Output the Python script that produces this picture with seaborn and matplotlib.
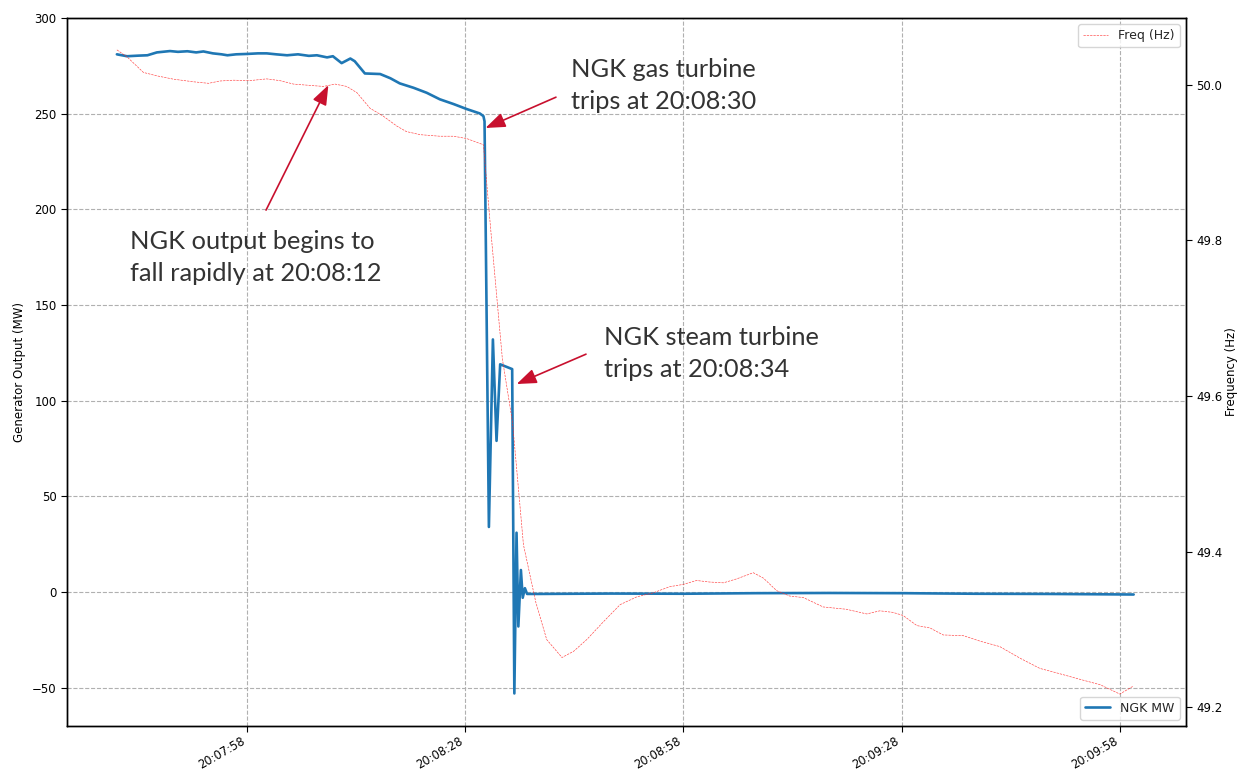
import matplotlib
matplotlib.use("Agg")
import matplotlib.pyplot as plt
import matplotlib.dates as mdates
import numpy as np
import pandas as pd
import seaborn as sns

# ---------------- data ----------------
base_time = "2018-08-25 20:07:58"

# NGK generator output (MW), seconds relative to 20:07:58
mw_seconds = [-17.9, -16.5, -15.0, -13.7, -12.4, -10.6, -9.5, -8.2, -7.0, -6.0,
              -4.7, -3.5, -2.7, -1.5, 0.0, 1.5, 2.7, 4.0, 5.5, 7.0,
              8.5, 9.6, 11.0, 11.8, 13.0, 14.2, 14.8, 16.2, 18.3, 19.7,
              21.0, 22.9, 24.7, 26.5, 28.4, 30.2, 32.0, 32.5, 32.65, 33.25,
              33.8, 34.3, 34.8, 36.45, 36.75, 37.05, 37.3, 37.65, 37.9, 38.2,
              38.5, 40.0, 50.0, 60.0, 70.0, 80.0, 90.0, 100.0, 110.0, 121.9]
mw_values = [281.0, 280.0, 280.3, 280.5, 282.0, 282.7, 282.3, 282.6, 282.0, 282.5,
             281.5, 281.0, 280.5, 281.0, 281.2, 281.5, 281.5, 281.0, 280.5, 281.0,
             280.2, 280.5, 279.4, 280.0, 276.4, 278.8, 277.4, 271.0, 270.7, 268.5,
             265.8, 263.5, 260.9, 257.5, 255.0, 252.4, 250.1, 248.7, 246.0, 34.0,
             132.0, 79.0, 119.0, 116.5, -53.0, 31.0, -18.0, 11.5, -3.0, 2.0,
             -1.0, -1.0, -0.8, -0.9, -0.6, -0.5, -0.6, -0.9, -1.0, -1.3]

# System frequency (Hz), seconds relative to 20:07:58
freq_seconds = [-17.9, -16.5, -14.25, -12.4, -10.1, -7.4, -5.3, -3.7, -1.9, 0.4,
                2.7, 4.5, 6.4, 9.1, 10.5, 12.1, 13.7, 15.1, 16.9, 18.7,
                20.6, 21.9, 23.8, 26.5, 28.4, 30.2, 32.5, 33.5, 35.1, 36.5,
                38.0, 39.7, 41.2, 43.3, 44.9, 46.7, 49.0, 51.3, 53.6, 55.8,
                58.1, 60.0, 61.8, 63.6, 65.5, 67.3, 69.6, 71.0, 72.8, 74.6,
                76.5, 79.2, 82.4, 85.2, 87.0, 88.8, 90.2, 92.1, 93.9, 95.7,
                98.5, 100.8, 103.5, 106.3, 109.0, 111.8, 114.5, 117.3, 120.0, 121.8]
freq_values = [50.045, 50.036, 50.016, 50.0116, 50.0073, 50.004, 50.002, 50.005, 50.006, 50.0055,
               50.0077, 50.0055, 50.001, 49.999, 49.998, 50.001, 49.998, 49.990, 49.970, 49.960,
               49.947, 49.940, 49.936, 49.934, 49.934, 49.931, 49.923, 49.814, 49.648, 49.566,
               49.409, 49.335, 49.287, 49.264, 49.272, 49.287, 49.310, 49.332, 49.342, 49.347,
               49.355, 49.358, 49.363, 49.361, 49.360, 49.365, 49.373, 49.366, 49.350, 49.343,
               49.341, 49.329, 49.326, 49.320, 49.324, 49.322, 49.318, 49.305, 49.302, 49.293,
               49.292, 49.285, 49.278, 49.263, 49.250, 49.243, 49.236, 49.229, 49.217, 49.227]

tick_labels = ["20:07:58", "20:08:28", "20:08:58", "20:09:28", "20:09:58"]
mw_ticks = [-50, 0, 50, 100, 150, 200, 250, 300]
freq_ticks = [49.2, 49.4, 49.6, 49.8, 50.0]

# annotations: text, (tip seconds, tip MW), (tail seconds, tail MW)
note_texts = ["NGK output begins to\nfall rapidly at 20:08:12",
              "NGK gas turbine\ntrips at 20:08:30",
              "NGK steam turbine\ntrips at 20:08:34"]
note_tips = [(11.18, 264.9), (32.78, 242.5), (37.07, 108.7)]
note_tails = [(2.61, 199.6), (42.47, 258.6), (46.6, 124.3)]
note_text_pos = [(0.0565, 0.7006), (0.4508, 0.9435), (0.4800, 0.5650)]

# ---------------- build frames ----------------
t0 = pd.Timestamp(base_time)
mw_df = pd.DataFrame({"time": t0 + pd.to_timedelta(mw_seconds, unit="s"),
                      "NGK MW": mw_values})
fq_df = pd.DataFrame({"time": t0 + pd.to_timedelta(freq_seconds, unit="s"),
                      "Freq (Hz)": freq_values})

sns.set_style("ticks")
plt.rcParams["font.family"] = ["DejaVu Sans"]

fig = plt.figure(figsize=(12.37, 7.71), dpi=100)
ax = fig.add_axes([0.0542, 0.0584, 0.9046, 0.9183])
ax2 = ax.twinx()

sns.lineplot(data=mw_df, x="time", y="NGK MW", ax=ax, color="#1f77b4",
             linewidth=1.9, label="NGK MW", legend=False)
sns.lineplot(data=fq_df, x="time", y="Freq (Hz)", ax=ax2, color="#ff2a2a",
             linewidth=0.45, linestyle="--", alpha=0.9, label="Freq (Hz)", legend=False)

ax.set_ylim(-70, 300)
ax2.set_ylim(49.176, 50.086)
ax.set_xlim(t0 + pd.Timedelta(seconds=-24.75), t0 + pd.Timedelta(seconds=129.1))

tick_times = [pd.Timestamp("2018-08-25 " + s) for s in tick_labels]
ax.set_xticks(tick_times)
ax.xaxis.set_major_formatter(mdates.DateFormatter("%H:%M:%S"))
ax.set_yticks(mw_ticks)
ax2.set_yticks(freq_ticks)
ax2.yaxis.set_major_formatter(matplotlib.ticker.FormatStrFormatter("%.1f"))

for a in (ax, ax2):
    a.tick_params(labelsize=8.5, colors="black", length=4, width=0.8)
    for sp in a.spines.values():
        sp.set_visible(True)
        sp.set_color("black")
        sp.set_linewidth(1.0)
ax.tick_params(axis="x", pad=2.5, labelsize=8.3)
plt.setp(ax.get_xticklabels(), rotation=30, ha="right")

ax.grid(True, linestyle="--", color="#b0b0b0", linewidth=0.8)
ax2.grid(False)

ax.set_xlabel("")
ax.set_ylabel("Generator Output (MW)", fontsize=8.5, color="black")
ax2.set_ylabel("Frequency (Hz)", fontsize=8.5, color="black", labelpad=1.5)

ax.legend(loc="lower right", fontsize=9)
ax2.legend(loc="upper right", fontsize=9)

arrow_color = "#c8102e"
for txt, tip, tail, pos in zip(note_texts, note_tips, note_tails, note_text_pos):
    tip_x = mdates.date2num(t0 + pd.Timedelta(seconds=tip[0]))
    tail_x = mdates.date2num(t0 + pd.Timedelta(seconds=tail[0]))
    ax.annotate("", xy=(tip_x, tip[1]), xytext=(tail_x, tail[1]),
                xycoords="data", textcoords="data",
                arrowprops=dict(arrowstyle="-|>,head_length=0.8,head_width=0.3",
                                color=arrow_color, lw=1.2, shrinkA=0, shrinkB=0,
                                mutation_scale=15),
                zorder=6)
    ax2.text(pos[0], pos[1], txt, transform=ax.transAxes, ha="left", va="top",
             fontsize=18.3, family=["Lato", "DejaVu Sans"], color="#333333",
             linespacing=1.5, zorder=7)

fig.savefig("out.png", dpi=100)
